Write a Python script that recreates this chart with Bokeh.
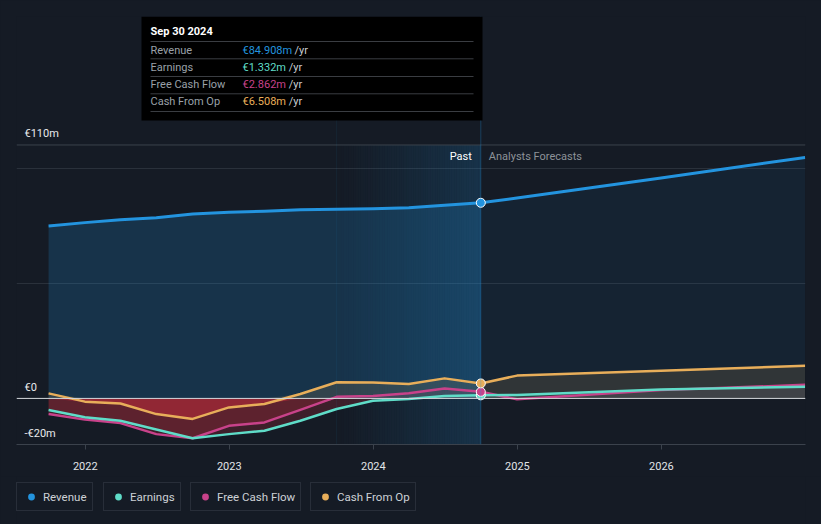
import numpy as np
import pandas as pd
from bokeh.plotting import figure
from bokeh.layouts import column
from bokeh.models import Range1d, FixedTicker, Span, BoxAnnotation, Label, Legend, LegendItem
from bokeh.embed import file_html
from bokeh.resources import INLINE
from bokeh.core.properties import value

# ---------------- data (EUR millions) ----------------
past_dates = ["2021-09-30", "2021-12-31", "2022-03-31", "2022-06-30", "2022-09-30",
              "2022-12-31", "2023-03-31", "2023-06-30", "2023-09-30", "2023-12-31",
              "2024-03-31", "2024-06-30", "2024-09-30"]
revenue_past = [74.8, 76.3, 77.5, 78.4, 80.0, 80.8, 81.2, 81.9, 82.1, 82.3, 82.8, 83.8, 84.908]
earnings_past = [-5.0, -8.2, -9.7, -13.5, -17.3, -15.5, -14.0, -9.7, -4.6, -1.0, -0.3, 1.0, 1.332]
fcf_past = [-6.8, -9.2, -10.7, -15.5, -17.3, -11.9, -10.4, -5.0, 0.7, 1.0, 2.2, 4.3, 2.862]
cfo_past = [2.2, -1.4, -2.2, -6.8, -8.9, -3.9, -2.4, 1.9, 7.0, 6.9, 6.3, 8.7, 6.508]

forecast_dates = ["2024-09-30", "2024-12-31", "2025-12-31", "2026-12-31"]
revenue_fc = [84.908, 87.0, 95.7, 104.6]
earnings_fc = [1.332, 1.5, 3.9, 5.1]
fcf_fc = [2.862, -0.4, 3.6, 5.9]
cfo_fc = [6.508, 9.9, 12.0, 14.2]

series_names = ["Revenue", "Earnings", "Free Cash Flow", "Cash From Op"]
series_colors = ["#2394df", "#5fdcc8", "#c8428a", "#e8ae5a"]
tooltip_date = "Sep 30 2024"
tooltip_values = ["€84.908m", "€1.332m", "€2.862m", "€6.508m"]
y_ticks = [110, 0, -20]
y_tick_labels = ["€110m", "€0", "-€20m"]
x_ticks = [2022, 2023, 2024, 2025, 2026]
band_dates = ["2023-09-30", "2024-09-30"]

BG = "#151b25"


def dec_year(dates):
    d = pd.to_datetime(pd.Series(dates))
    days = np.where(d.dt.is_leap_year, 366, 365)
    return (d.dt.year + (d.dt.dayofyear - 1) / days).to_numpy()


xp = dec_year(past_dates)
xf = dec_year(forecast_dates)
b0, b1 = dec_year(band_dates)

# ---------------- main figure ----------------
X0, X1 = 2021.5226, 2027.0
Y0, Y1 = -20.0, 165.76
W = 821
H = 476
ML, MR, MT, MB = 16, 16, 16, 32

p = figure(width=W, height=H, output_backend="svg", toolbar_location=None,
           x_range=Range1d(X0, X1), y_range=Range1d(Y0, Y1),
           min_border_left=ML, min_border_right=MR, min_border_top=MT, min_border_bottom=MB)
p.background_fill_color = BG
p.border_fill_color = BG
p.outline_line_color = None
p.yaxis.visible = False
p.xgrid.visible = False
p.ygrid.ticker = FixedTicker(ticks=[50, 100])
p.ygrid.grid_line_color = "#2a313b"
p.ygrid.grid_line_width = 1

p.xaxis.ticker = FixedTicker(ticks=x_ticks)
p.xaxis.major_label_overrides = {t: str(t) for t in x_ticks}
p.xaxis.axis_line_color = "#3b424c"
p.xaxis.major_tick_line_color = "#3b424c"
p.xaxis.major_tick_out = 5
p.xaxis.major_tick_in = 0
p.xaxis.minor_tick_line_color = None
p.xaxis.major_label_text_color = "#e2e5e8"
p.xaxis.major_label_text_font = "Roboto"
p.xaxis.major_label_text_font_size = "11px"
p.xaxis.major_label_standoff = 12

FW = W - ML - MR
FH = H - MT - MB


def wx(xw):
    return X0 + (xw - ML) * (X1 - X0) / FW


def wy(yw):
    return Y1 - (yw - MT) * (Y1 - Y0) / FH


# highlight band (last 12 months), faded from left to right
n = 60
edges = np.linspace(b0, b1, n + 1)
alphas = list(np.linspace(0.0, 0.2, n))
p.quad(left=edges[:-1], right=edges[1:], bottom=Y0, top=110, fill_color="#2394df",
       fill_alpha=alphas, line_color=None)

# revenue area
p.varea(x=xp, y1=0, y2=revenue_past, fill_color="#2394df", fill_alpha=0.2)
p.varea(x=xf, y1=0, y2=revenue_fc, fill_color="#2394df", fill_alpha=0.07)

# small series areas (own colour above zero, red below zero)
small = [(earnings_past, earnings_fc, series_colors[1], 0.08, 0.2),
         (fcf_past, fcf_fc, series_colors[2], 0.08, 0.2),
         (cfo_past, cfo_fc, series_colors[3], 0.13, 0.4)]
for yp, yf, col, pos_a, neg_a in small:
    x_all = np.concatenate([xp, xf[1:]])
    y_all = np.concatenate([yp, yf[1:]])
    p.varea(x=x_all, y1=0, y2=np.maximum(y_all, 0), fill_color=col, fill_alpha=pos_a)
    p.varea(x=x_all, y1=0, y2=np.minimum(y_all, 0), fill_color="#e0303f", fill_alpha=neg_a)

# lines
lines = [(revenue_past, revenue_fc, series_colors[0], 3),
         (cfo_past, cfo_fc, series_colors[3], 2.5),
         (fcf_past, fcf_fc, series_colors[2], 2.5),
         (earnings_past, earnings_fc, series_colors[1], 2.5)]
for yp, yf, col, lw in lines:
    x_all = np.concatenate([xp, xf[1:]])
    y_all = np.concatenate([yp, yf[1:]])
    p.line(x=x_all, y=y_all, line_color=col, line_width=lw, line_join="round")

# reference lines
p.add_layout(Span(location=110, dimension="width", line_color="#3b424c", line_width=1))
p.add_layout(Span(location=0, dimension="width", line_color="#d5d8dc", line_width=1))
p.add_layout(Span(location=b1, dimension="height", line_color="#2394df", line_alpha=0.3, line_width=1))
p.add_layout(Span(location=b0, dimension="height", line_color="#2394df", line_alpha=0.08, line_width=1))

# markers at latest reported point
for yp, col in [(earnings_past, series_colors[1]), (fcf_past, series_colors[2]),
                (cfo_past, series_colors[3]), (revenue_past, series_colors[0])]:
    p.scatter(x=[xp[-1]], y=[yp[-1]], size=9, fill_color=col, line_color="white", line_width=1)

# y tick labels inside the plot
p.text(x=[X0] * len(y_ticks), y=y_ticks, text=y_tick_labels, x_offset=8, y_offset=-11,
       text_baseline="middle", text_align="left", text_font=value("Roboto"),
       text_font_size="11px", text_color="#e8eaec")

# Past / Analysts Forecasts labels
p.text(x=[b1], y=[110], text=["Past"], x_offset=-9, y_offset=12, text_align="right",
       text_baseline="middle", text_font=value("Roboto"), text_font_size="11px",
       text_color="#ffffff")
p.text(x=[b1], y=[110], text=["Analysts Forecasts"], x_offset=8, y_offset=12, text_align="left",
       text_baseline="middle", text_font=value("Roboto"), text_font_size="11px",
       text_color="#8d9298")

# tooltip box
p.add_layout(BoxAnnotation(left=wx(141), right=wx(482), top=Y1, bottom=wy(120),
                           fill_color="#000000", fill_alpha=1, line_color=None))
p.add_layout(Label(x=wx(150), y=wy(31), text=tooltip_date, text_font="Roboto",
                   text_font_size="11px", text_font_style="bold", text_color="#ffffff",
                   text_baseline="middle"))
sep_y = [41, 58.3, 76, 93.3, 111]
p.segment(x0=[wx(150)] * len(sep_y), x1=[wx(473)] * len(sep_y),
          y0=[wy(v) for v in sep_y], y1=[wy(v) for v in sep_y],
          line_color="#3a3d42", line_width=1, level="overlay")
row_y = [49.5, 66.8, 84.3, 101.3]
yr_x = [294, 288.3, 288.3, 288.3]
for name, val, col, ry, yx in zip(series_names, tooltip_values, series_colors, row_y, yr_x):
    p.add_layout(Label(x=wx(150), y=wy(ry), text=name, text_font="Roboto", text_font_size="11px",
                       text_color="#9aa0a8", text_baseline="middle"))
    p.add_layout(Label(x=wx(242), y=wy(ry), text=val, text_font="Roboto", text_font_size="11px",
                       text_color=col, text_baseline="middle"))
    p.add_layout(Label(x=wx(yx), y=wy(ry), text="/yr", text_font="Roboto", text_font_size="11px",
                       text_color="#c9cdd2", text_baseline="middle"))

# ---------------- legend strip ----------------
LH = 524 - H
leg = figure(width=W, height=LH, output_backend="svg", toolbar_location=None,
             x_axis_type=None, y_axis_type=None, x_range=Range1d(0, 1), y_range=Range1d(0, 1),
             min_border=0)
leg.background_fill_color = BG
leg.border_fill_color = BG
leg.outline_line_color = None
legend_x = [0, 87, 174, 294]
for name, col, lx in zip(series_names, series_colors, legend_x):
    r = leg.scatter(x=np.array([np.nan]), y=np.array([np.nan]), size=8, fill_color=col, line_color=None)
    lg = Legend(items=[LegendItem(label=name, renderers=[r])], location=(lx, 13),
                orientation="horizontal", background_fill_color=BG, background_fill_alpha=1,
                border_line_color="#3b424d", border_line_width=1,
                label_text_color="#cdd1d6", label_text_font="Roboto", label_text_font_size="11.5px",
                glyph_width=18, glyph_height=17, label_height=16, label_standoff=3,
                padding=5, margin=0, spacing=0)
    leg.add_layout(lg, "center")

layout = column(p, leg, spacing=0)
html = file_html(layout, INLINE,
                 template="{% block postamble %}<style>html,body{background:#151b25;margin:0;}</style>{% endblock %}")
open("out.html", "w").write(html)
